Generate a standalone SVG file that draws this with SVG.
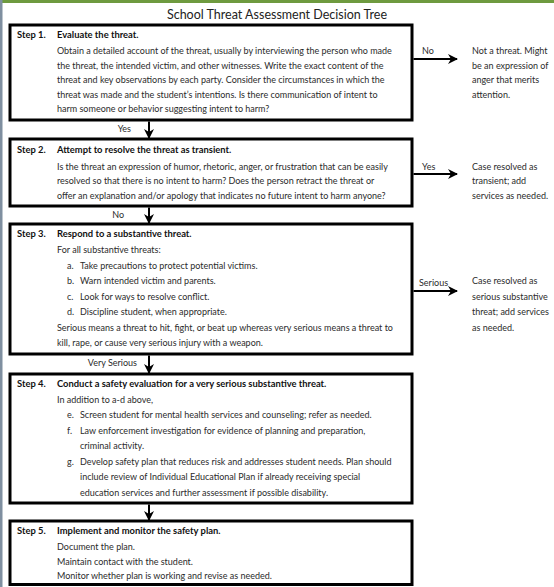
<svg xmlns="http://www.w3.org/2000/svg" width="554" height="587" viewBox="0 0 554 587">
<defs>
<style>
.t{font-family:Lato,"Open Sans","Liberation Sans",sans-serif;font-size:9px;fill:#2b2b2b}
.h{font-family:Lato,"Open Sans","Liberation Sans",sans-serif;font-size:9.4px;font-weight:700;fill:#111}
.ti{font-family:Lato,"Open Sans","Liberation Sans",sans-serif;font-size:12.5px;fill:#222}
.box{fill:#fff;stroke:#000;stroke-width:3}
.c{stroke:#000;stroke-width:2;fill:none}
</style>
<marker id="ah" viewBox="0 0 10 10" refX="9" refY="5" markerWidth="10" markerHeight="10" orient="auto" markerUnits="userSpaceOnUse">
<path d="M0,0 L10,5 L0,10 L3,5 z" fill="#000"/>
</marker>
</defs>
<rect x="0" y="0" width="554" height="587" fill="#fff"/>
<rect x="0" y="0" width="554" height="3" fill="#6e9a3f"/>
<rect x="0" y="0" width="2.5" height="587" fill="#7f8fa0"/>
<text class="ti" x="277" y="19" text-anchor="middle">School Threat Assessment Decision Tree</text>

<g id="step1">
<rect class="box" x="10" y="25" width="402" height="95"/>
<text class="h" x="17" y="37.5">Step 1.</text>
<text class="h" x="57" y="37.5">Evaluate the threat.</text>
<text class="t" x="57" y="54">Obtain a detailed account of the threat, usually by interviewing the person who made</text>
<text class="t" x="57" y="68.5">the threat, the intended victim, and other witnesses. Write the exact content of the</text>
<text class="t" x="57" y="83">threat and key observations by each party. Consider the circumstances in which the</text>
<text class="t" x="57" y="97.5">threat was made and the student’s intentions. Is there communication of intent to</text>
<text class="t" x="57" y="112">harm someone or behavior suggesting intent to harm?</text>
</g>
<g id="out1">
<text class="t" x="472" y="54">Not a threat. Might</text>
<text class="t" x="472" y="68.5">be an expression of</text>
<text class="t" x="472" y="83">anger that merits</text>
<text class="t" x="472" y="97.5">attention.</text>
</g>

<g id="step2">
<rect class="box" x="10" y="139" width="402" height="67"/>
<text class="h" x="17" y="152.5">Step 2.</text>
<text class="h" x="57" y="152.5">Attempt to resolve the threat as transient.</text>
<text class="t" x="57" y="169.5">Is the threat an expression of humor, rhetoric, anger, or frustration that can be easily</text>
<text class="t" x="57" y="184">resolved so that there is no intent to harm? Does the person retract the threat or</text>
<text class="t" x="57" y="198.5">offer an explanation and/or apology that indicates no future intent to harm anyone?</text>
</g>
<g id="out2">
<text class="t" x="472" y="169.5">Case resolved as</text>
<text class="t" x="472" y="184">transient; add</text>
<text class="t" x="472" y="198.5">services as needed.</text>
</g>

<g id="step3">
<rect class="box" x="10" y="224" width="402" height="130"/>
<text class="h" x="17" y="236.5">Step 3.</text>
<text class="h" x="57" y="236.5">Respond to a substantive threat.</text>
<text class="t" x="57" y="252.5">For all substantive threats:</text>
<text class="t" x="67" y="268.5">a.</text><text class="t" x="80" y="268.5">Take precautions to protect potential victims.</text>
<text class="t" x="67" y="284">b.</text><text class="t" x="80" y="284">Warn intended victim and parents.</text>
<text class="t" x="67" y="299.5">c.</text><text class="t" x="80" y="299.5">Look for ways to resolve conflict.</text>
<text class="t" x="67" y="315">d.</text><text class="t" x="80" y="315">Discipline student, when appropriate.</text>
<text class="t" x="57" y="330.5">Serious means a threat to hit, fight, or beat up whereas very serious means a threat to</text>
<text class="t" x="57" y="346">kill, rape, or cause very serious injury with a weapon.</text>
</g>
<g id="out3">
<text class="t" x="472" y="284">Case resolved as</text>
<text class="t" x="472" y="299.5">serious substantive</text>
<text class="t" x="472" y="315">threat; add services</text>
<text class="t" x="472" y="330.5">as needed.</text>
</g>

<g id="step4">
<rect class="box" x="10" y="374" width="402" height="129"/>
<text class="h" x="17" y="386.5">Step 4.</text>
<text class="h" x="57" y="386.5">Conduct a safety evaluation for a very serious substantive threat.</text>
<text class="t" x="57" y="402.5">In addition to a-d above,</text>
<text class="t" x="67" y="418">e.</text><text class="t" x="80" y="418">Screen student for mental health services and counseling; refer as needed.</text>
<text class="t" x="67" y="433.5">f.</text><text class="t" x="80" y="433.5">Law enforcement investigation for evidence of planning and preparation,</text>
<text class="t" x="80" y="449">criminal activity.</text>
<text class="t" x="67" y="464.5">g.</text><text class="t" x="80" y="464.5">Develop safety plan that reduces risk and addresses student needs. Plan should</text>
<text class="t" x="80" y="480">include review of Individual Educational Plan if already receiving special</text>
<text class="t" x="80" y="495.5">education services and further assessment if possible disability.</text>
</g>

<g id="step5">
<rect class="box" x="10" y="521" width="402" height="63.5"/>
<text class="h" x="17" y="534">Step 5.</text>
<text class="h" x="57" y="534">Implement and monitor the safety plan.</text>
<text class="t" x="57" y="550">Document the plan.</text>
<text class="t" x="57" y="564.5">Maintain contact with the student.</text>
<text class="t" x="57" y="578.5">Monitor whether plan is working and revise as needed.</text>
</g>

<g id="connectors">
<line class="c" x1="413.5" y1="59" x2="457" y2="59" marker-end="url(#ah)"/>
<text class="t" x="422" y="54">No</text>
<line class="c" x1="413.5" y1="174" x2="457" y2="174" marker-end="url(#ah)"/>
<text class="t" x="422" y="169.5">Yes</text>
<line class="c" x1="413.5" y1="291" x2="457" y2="291" marker-end="url(#ah)"/>
<text class="t" x="419" y="286">Serious</text>
<line class="c" x1="149" y1="121.5" x2="149" y2="138" marker-end="url(#ah)"/>
<text class="t" x="131" y="132" text-anchor="end">Yes</text>
<line class="c" x1="149" y1="207.5" x2="149" y2="223" marker-end="url(#ah)"/>
<text class="t" x="124" y="218" text-anchor="end">No</text>
<line class="c" x1="149" y1="355.5" x2="149" y2="373" marker-end="url(#ah)"/>
<text class="t" x="137" y="366" text-anchor="end">Very Serious</text>
<line class="c" x1="149" y1="504.5" x2="149" y2="520" marker-end="url(#ah)"/>
</g>
</svg>
